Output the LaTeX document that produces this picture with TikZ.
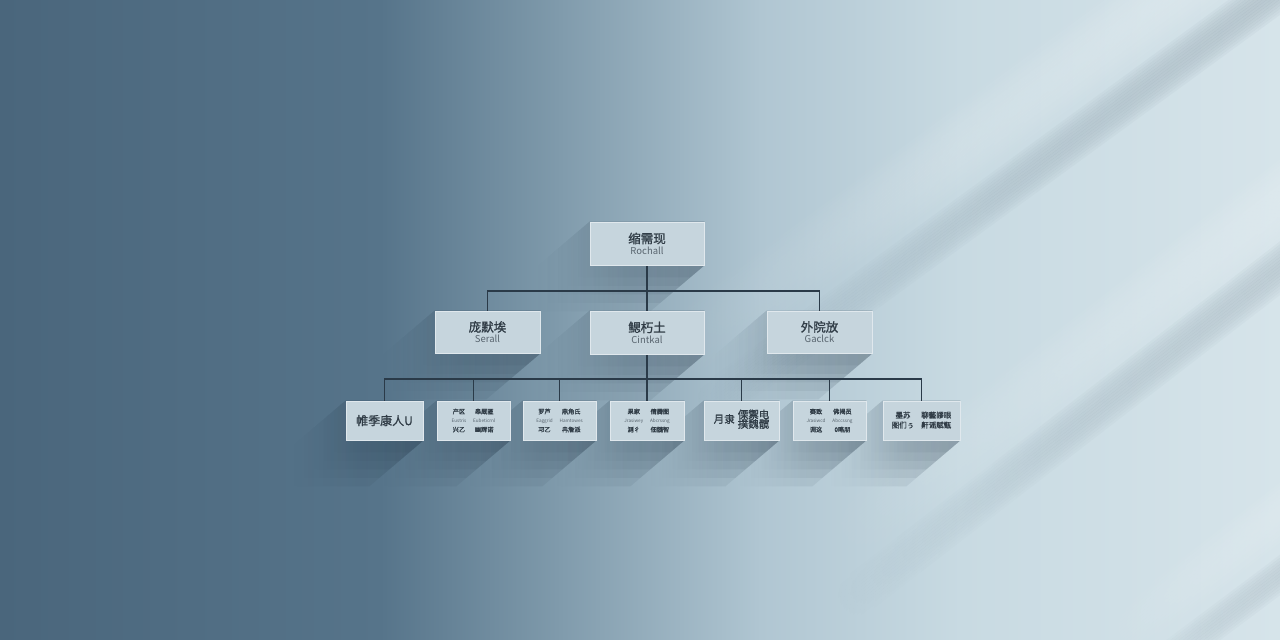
\documentclass[tikz,border=0pt]{standalone}
\usepackage{fontspec}
\setmainfont{Noto Sans CJK SC}
\newfontfamily\cjkhead[FakeBold=1.2]{Noto Sans CJK SC}
\usetikzlibrary{calc,fadings}
\definecolor{bgA}{RGB}{74,102,124}
\definecolor{bgB}{RGB}{86,116,138}
\definecolor{bgC}{RGB}{128,155,172}
\definecolor{bgD}{RGB}{176,198,210}
\definecolor{bgE}{RGB}{200,218,226}
\definecolor{bgF}{RGB}{214,228,234}
\definecolor{boxfill}{RGB}{198,213,221}
\definecolor{boxedge}{RGB}{224,232,237}
\definecolor{linec}{RGB}{42,58,72}
\definecolor{txt}{RGB}{48,60,70}
\definecolor{subtxt}{RGB}{88,100,110}
\definecolor{shad}{RGB}{36,56,74}
\tikzfading[name=fadein, left color=transparent!100, right color=transparent!0,
  middle color=transparent!30]
\pgfdeclarelayer{wall}
\pgfdeclarelayer{shadow}
\pgfsetlayers{wall,shadow,main}
\tikzset{
  box/.style={draw=boxedge, line width=0.8pt, fill=boxfill, inner sep=0pt,
              align=center, text=txt, minimum height=#1},
  box/.default=39pt,
  conn/.style={draw=linec, line width=1.5pt, line join=miter},
}
\newcommand\cjkbig{\cjkhead\fontsize{12.5}{15}\selectfont}
\newcommand\engsub{\fontsize{9.5}{12}\selectfont\color{subtxt}}
\newcommand\leafcjk{\cjkhead\fontsize{6.2}{8}\selectfont}
\newcommand\leafeng{\fontsize{4.6}{6}\selectfont\color{subtxt}}
% box cast shadow, toward lower left
\newcommand\bshadow[1]{%
  \foreach \L/\o in {54/0.10,44/0.09,34/0.09,24/0.08,14/0.08}{%
  \fill[shad,opacity=\o,path fading=fadein] (#1.north east) -- (#1.north west)
      -- ($(#1.north west)+(-\L,0.85*\L)$) -- ($(#1.south west)+(-\L,0.85*\L)$)
      -- ($(#1.south east)+(-\L,0.85*\L)$) -- (#1.south east) -- cycle;}}
% soft diagonal band: start point, end point, colour, half count, peak opacity
\newcommand\softband[7]{%
  \foreach \k in {-#6,...,#6}{%
    \pgfmathsetmacro\op{#7*(1-(\k/(#6+1))^2)}%
    \draw[#5, line width=2.5pt, opacity=\op, path fading=fadein]
      ($(#1,#2)+(1.5*\k,2*\k)$) -- ($(#3,#4)+(1.5*\k,2*\k)$);}}
\begin{document}
\begin{tikzpicture}[x=1pt,y=-1pt]
\useasboundingbox (0,0) rectangle (1280,640);
\begin{pgfonlayer}{wall}
  \shade[left color=bgA, right color=bgB] (0,0) rectangle (381,640);
  \shade[left color=bgB, right color=bgC] (380,0) rectangle (561,640);
  \shade[left color=bgC, right color=bgD] (560,0) rectangle (761,640);
  \shade[left color=bgD, right color=bgE] (760,0) rectangle (961,640);
  \shade[left color=bgE, right color=bgF] (960,0) rectangle (1280,640);
  \begin{scope}
    \clip (0,0) rectangle (1280,640);
    % streak 1
    \softband{640}{380}{1300}{-100}{white}{14}{0.20}
    \softband{700}{412}{1300}{-26}{shad}{8}{0.16}
    % streak 2
    \softband{820}{556}{1300}{186}{white}{14}{0.17}
    \softband{840}{608}{1300}{253}{shad}{8}{0.13}
    % streak 3
    \softband{1100}{652}{1300}{497}{white}{10}{0.14}
    \softband{1120}{695}{1300}{560}{shad}{6}{0.11}
  \end{scope}
\end{pgfonlayer}

% top level
\node[box=43pt, minimum width=114pt] (top) at (647,243.5)
  {{\cjkbig 缩需现}\\[-1pt]{\engsub Rochall}};
% second level
\node[box=42pt, minimum width=105pt] (l2) at (487.5,332)
  {{\cjkbig 庞默埃}\\[-1pt]{\engsub Serall}};
\node[box=43pt, minimum width=114pt] (m2) at (647,332.5)
  {{\cjkbig 鳃朽土}\\[-1pt]{\engsub Cintkal}};
\node[box=42pt, minimum width=105pt] (r2) at (819.5,332)
  {{\cjkbig 外院放}\\[-1pt]{\engsub Gaclck}};
% third level
\node[box, minimum width=77pt] (c1) at (384.5,420.5)
  {\cjkhead\fontsize{12}{14}\selectfont 帷季康人U};
\node[box, minimum width=73pt] (c2) at (473.5,420.5)
  {\begin{tabular}{@{}c@{\hspace{7pt}}c@{}}
   \leafcjk 产区 & \leafcjk 皋厩匿\\[-3pt]
   \leafeng Eustris & \leafeng Eubeticrnl\\[-3pt]
   \leafcjk 兴乙 & \leafcjk 幽辉诺\end{tabular}};
\node[box, minimum width=73pt] (c3) at (559.5,420.5)
  {\begin{tabular}{@{}c@{\hspace{7pt}}c@{}}
   \leafcjk 罗芦 & \leafcjk 鼎角氏\\[-3pt]
   \leafeng Eaggrid & \leafeng Hamtowes\\[-3pt]
   \leafcjk 邛乙 & \leafcjk 冉詹派\end{tabular}};
\node[box, minimum width=74pt] (c4) at (647,420.5)
  {\begin{tabular}{@{}c@{\hspace{7pt}}c@{}}
   \leafcjk 果家 & \leafcjk 倩腾图\\[-3pt]
   \leafeng Jrasiwey & \leafeng Abcrssng\\[-3pt]
   \leafcjk 测彳 & \leafcjk 佃髓智\end{tabular}};
\node[box, minimum width=75pt] (c5) at (741.5,420.5)
  {{\cjkhead\fontsize{10.5}{12}\selectfont 月隶}\hspace{3pt}%
   \begin{tabular}{@{}c@{}}\cjkhead\fontsize{10.5}{12}\selectfont 傈禦电\\[-3pt]
   \cjkhead\fontsize{10.5}{12}\selectfont 撲魏髋\end{tabular}};
\node[box, minimum width=73pt] (c6) at (829.5,420.5)
  {\begin{tabular}{@{}c@{\hspace{7pt}}c@{}}
   \leafcjk 赛致 & \leafcjk 佛揭员\\[-3pt]
   \leafeng Jrasiwcd & \leafeng Abccssng\\[-3pt]
   \leafcjk 调这 & \leafcjk 0略朋\end{tabular}};
\node[box, minimum width=77pt] (c7) at (921.5,420.5)
  {\begin{tabular}{@{}c@{\hspace{7pt}}c@{}}
   \cjkhead\fontsize{7.5}{9}\selectfont 墨苏 & \cjkhead\fontsize{7.5}{9}\selectfont 聊藝謬眼\\[-2pt]
   \cjkhead\fontsize{7.5}{9}\selectfont 图们ぅ & \cjkhead\fontsize{7.5}{9}\selectfont 鼾谣赋甑\end{tabular}};

% cast shadows
\begin{pgfonlayer}{shadow}
  \foreach \n in {top,l2,m2,r2,c1,c2,c3,c4,c5,c6,c7}{\bshadow{\n}}
\end{pgfonlayer}

% connectors
\coordinate (bus1) at (647,291);
\coordinate (bus2) at (647,379);
\begin{pgfonlayer}{shadow}
  \draw[conn] (top.south) -- (bus1);
  \draw[conn] (l2.north) |- (bus1);
  \draw[conn] (r2.north) |- (bus1);
  \draw[conn] (m2.north) -- (bus1);
  \draw[conn] (m2.south) -- (bus2);
  \foreach \n in {c1,c2,c3,c4,c5,c6,c7}{\draw[conn] (\n.north) |- (bus2);}
\end{pgfonlayer}
\end{tikzpicture}
\end{document}
